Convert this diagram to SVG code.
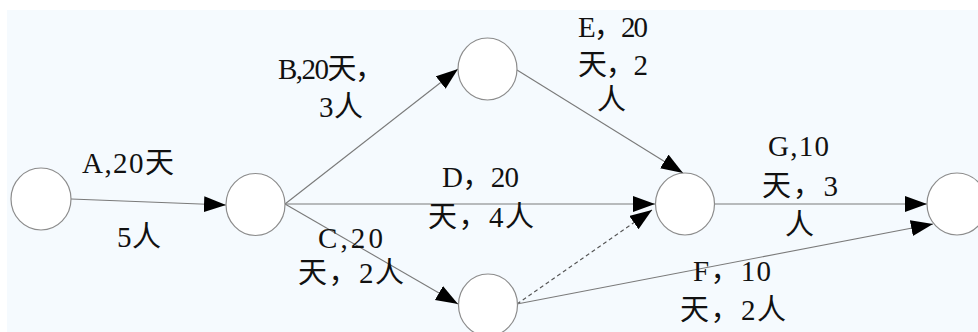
<svg xmlns="http://www.w3.org/2000/svg" width="978" height="332" viewBox="0 0 978 332">
<defs>
<style>
.node{fill:#ffffff;stroke:#8c8c8c;stroke-width:1.2}
.edge{stroke:#7a7a7a;stroke-width:1.1;fill:none}
.dash{stroke-dasharray:4 3;stroke:#555}
.lbl{font-family:"Liberation Serif","Noto Sans CJK SC",serif;font-size:29px;fill:#111}
</style>
<marker id="ah" markerUnits="userSpaceOnUse" markerWidth="24" markerHeight="18" refX="22" refY="8" orient="auto">
<path d="M0,0 L22,8 L0,16 z" fill="#000"/>
</marker>
</defs>
<rect x="0" y="0" width="978" height="332" fill="#ffffff"/>
<rect x="7" y="10" width="971" height="322" fill="#f5fafe"/>
<g id="connectors">
<line class="edge" x1="71" y1="199" x2="226" y2="205" marker-end="url(#ah)"/>
<line class="edge" x1="285" y1="204" x2="458" y2="69" marker-end="url(#ah)"/>
<line class="edge" x1="285" y1="204" x2="655" y2="204" marker-end="url(#ah)"/>
<line class="edge" x1="285" y1="204" x2="458" y2="304" marker-end="url(#ah)"/>
<line class="edge" x1="517" y1="70" x2="683" y2="173" marker-end="url(#ah)"/>
<line class="edge dash" x1="517" y1="304" x2="652" y2="210" marker-end="url(#ah)"/>
<line class="edge" x1="517" y1="304" x2="933" y2="224" marker-end="url(#ah)"/>
<line class="edge" x1="714" y1="204" x2="927" y2="204" marker-end="url(#ah)"/>
</g>
<g id="n1"><ellipse class="node" cx="41" cy="199" rx="30" ry="31"/></g>
<g id="n2"><ellipse class="node" cx="255.5" cy="204.5" rx="29.5" ry="31"/></g>
<g id="n3"><ellipse class="node" cx="487.5" cy="69" rx="29.5" ry="31"/></g>
<g id="n4"><ellipse class="node" cx="685" cy="204" rx="29.5" ry="31"/></g>
<g id="n5"><ellipse class="node" cx="957" cy="204" rx="30" ry="31"/></g>
<g id="n6"><ellipse class="node" cx="488" cy="305" rx="29.5" ry="31"/></g>
<g id="labels">
<text class="lbl" x="82" y="173" textLength="92">A,20天</text>
<text class="lbl" x="117" y="247" textLength="44">5人</text>
<text class="lbl" x="278" y="79" textLength="106">B,20天，</text>
<text class="lbl" x="319" y="117" textLength="44">3人</text>
<text class="lbl" x="578" y="37" textLength="70">E，20</text>
<text class="lbl" x="578" y="75" textLength="70">天，2</text>
<text class="lbl" x="597" y="110" textLength="31">人</text>
<text class="lbl" x="442" y="187" textLength="77">D，20</text>
<text class="lbl" x="428" y="227" textLength="106">天，4人</text>
<text class="lbl" x="318" y="248" textLength="65">C,20</text>
<text class="lbl" x="298" y="283" textLength="106">天，2人</text>
<text class="lbl" x="768" y="156" textLength="61">G,10</text>
<text class="lbl" x="762" y="196" textLength="76">天，3</text>
<text class="lbl" x="785" y="235" textLength="29">人</text>
<text class="lbl" x="693" y="281" textLength="78">F，10</text>
<text class="lbl" x="680" y="320" textLength="106">天，2人</text>
</g>
</svg>
